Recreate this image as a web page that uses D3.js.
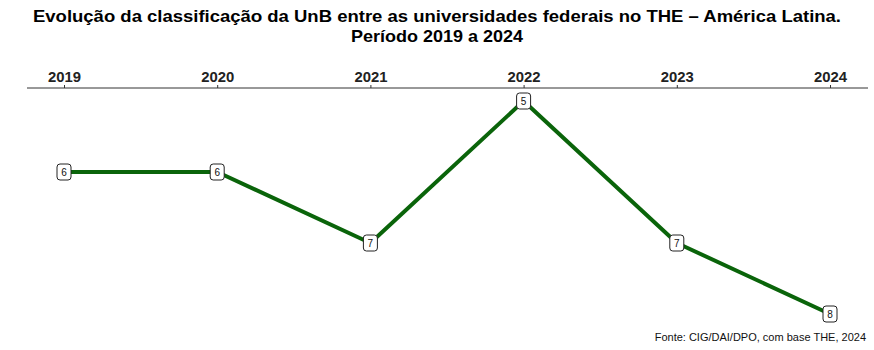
<!DOCTYPE html>
<html>
<head>
<meta charset="utf-8">
<script src="https://cdn.jsdelivr.net/npm/d3@7"></script>
<style>
  body { margin: 0; background: #fff; }
  text { font-family: "Liberation Sans", Arial, sans-serif; }
</style>
</head>
<body>
<svg id="chart"></svg>
<script>
let years = [2019, 2020, 2021, 2022, 2023, 2024]
let ranks = [6, 6, 7, 5, 7, 8]

let width = 874
let height = 350

let svg = d3.select("#chart")
    .attr("width", width)
    .attr("height", height)

let x = d3.scalePoint()
    .domain(years)
    .range([64, 830])

let y = d3.scaleLinear()
    .domain([5, 8])
    .range([101, 314])

// title
svg.append("text")
    .attr("x", 437).attr("y", 22)
    .attr("text-anchor", "middle")
    .attr("font-size", 17).attr("font-weight", "bold")
    .attr("textLength", 808).attr("lengthAdjust", "spacingAndGlyphs")
    .text("Evolução da classificação da UnB entre as universidades federais no THE – América Latina.")
svg.append("text")
    .attr("x", 437).attr("y", 42)
    .attr("text-anchor", "middle")
    .attr("font-size", 17).attr("font-weight", "bold")
    .attr("textLength", 172).attr("lengthAdjust", "spacingAndGlyphs")
    .text("Período 2019 a 2024")

// top axis
let axis = svg.append("g")
    .attr("transform", "translate(0,88)")
    .call(d3.axisTop(x).tickSize(3).tickPadding(3).tickSizeOuter(0))
axis.select(".domain").remove()
axis.append("line")
    .attr("x1", 27).attr("x2", 868)
    .attr("stroke", "#333").attr("stroke-width", 1)
axis.selectAll(".tick line").attr("stroke", "#333")
axis.selectAll(".tick text")
    .attr("fill", "#222")
    .attr("font-size", 14).attr("font-weight", "bold")
    .attr("font-family", "Liberation Sans, Arial, sans-serif")
    .attr("textLength", 33).attr("lengthAdjust", "spacingAndGlyphs")

let points = years.map((d, i) => ({year: d, rank: ranks[i]}))

let line = d3.line()
    .x(d => x(d.year))
    .y(d => y(d.rank))

svg.append("path")
    .datum(points)
    .attr("d", line)
    .attr("fill", "none")
    .attr("stroke", "#0a640a")
    .attr("stroke-width", 4)
    .attr("stroke-linejoin", "round")

let labels = svg.selectAll("g.lbl")
    .data(points)
    .enter().append("g")
    .classed("lbl", true)
    .attr("transform", d => `translate(${x(d.year)},${y(d.rank)})`)

labels.append("rect")
    .attr("x", -7).attr("y", -8)
    .attr("width", 14).attr("height", 16)
    .attr("rx", 3)
    .attr("fill", "#fff")
    .attr("stroke", "#222")
    .attr("stroke-width", 1)

labels.append("text")
    .attr("text-anchor", "middle")
    .attr("dy", "0.35em")
    .attr("font-size", 10)
    .attr("fill", "#111")
    .text(d => d.rank)

svg.append("text")
    .attr("x", 866).attr("y", 341)
    .attr("text-anchor", "end")
    .attr("font-size", 11)
    .attr("fill", "#111")
    .text("Fonte: CIG/DAI/DPO, com base THE, 2024")
</script>
</body>
</html>
